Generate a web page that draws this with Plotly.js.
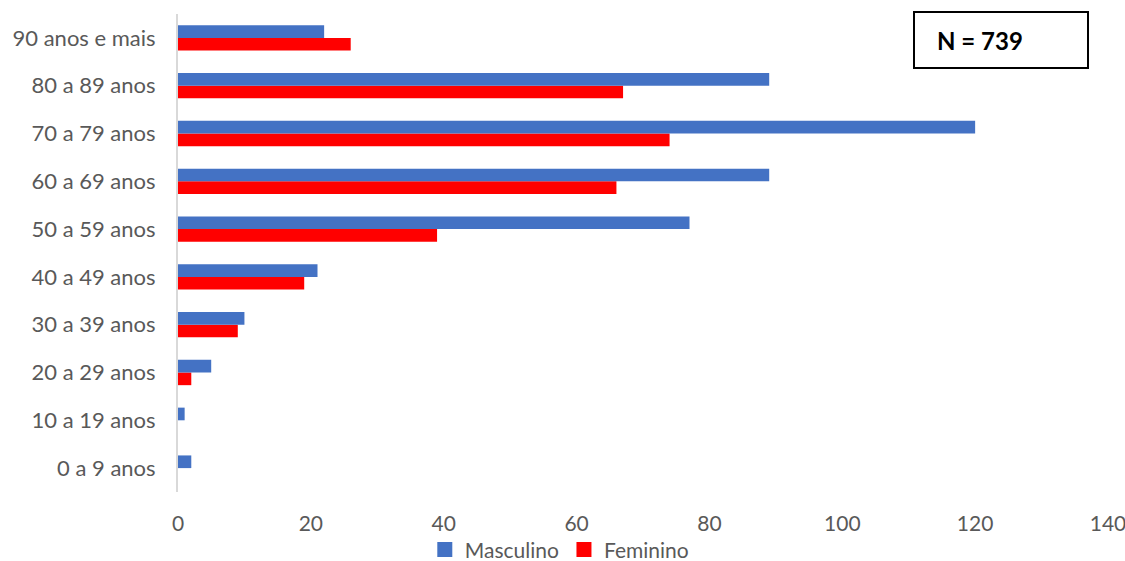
<!DOCTYPE html>
<html>
<head>
<meta charset="utf-8">
<script src="https://cdn.plot.ly/plotly-3.0.1.min.js"></script>
<style>html,body{margin:0;padding:0;background:#fff;}#chart{width:1125px;height:561px;}</style>
</head>
<body>
<div id="chart"></div>
<script>
// Faixas etárias (de baixo para cima)
const faixas = ['0 a 9 anos', '10 a 19 anos', '20 a 29 anos', '30 a 39 anos', '40 a 49 anos',
  '50 a 59 anos', '60 a 69 anos', '70 a 79 anos', '80 a 89 anos', '90 anos e mais'];
const masculino = [2, 1, 5, 10, 21, 77, 89, 120, 89, 22];
const feminino  = [0, 0, 2, 9, 19, 39, 66, 74, 67, 26];
const xTicks = [0, 20, 40, 60, 80, 100, 120, 140];
const totalLabel = 'N = 739';

const font = 'Lato, "Open Sans", sans-serif';
const grey = '#595959';
const blue = '#4472c4';
const red = '#ff0000';

// Feminino first so that Masculino sits above it within each group;
// legend keys are drawn by marker-only entries with larger square symbols
const traces = [
  { type: 'bar', orientation: 'h', name: 'Feminino', y: faixas, x: feminino,
    marker: { color: red }, showlegend: false, hoverinfo: 'x+name' },
  { type: 'bar', orientation: 'h', name: 'Masculino', y: faixas, x: masculino,
    marker: { color: blue }, showlegend: false, hoverinfo: 'x+name' },
  { type: 'scatter', mode: 'markers', name: 'Masculino', x: [null], y: [null],
    marker: { symbol: 'square', size: 15, color: blue }, showlegend: true },
  { type: 'scatter', mode: 'markers', name: 'Feminino', x: [null], y: [null],
    marker: { symbol: 'square', size: 15, color: red }, showlegend: true }
];

const layout = {
  width: 1125, height: 561,
  margin: { l: 178, r: 17, t: 14, b: 69, autoexpand: false },
  paper_bgcolor: '#ffffff', plot_bgcolor: '#ffffff',
  barmode: 'group', bargap: 0.47, bargroupgap: 0,
  font: { family: font, size: 21, color: grey },
  xaxis: {
    range: [0, 140], tickvals: xTicks, ticktext: xTicks.map(String),
    showgrid: false, zeroline: false, showline: false, ticks: '',
    ticklabeloverflow: 'allow', ticklabelstandoff: 17, automargin: false,
    tickfont: { family: font, size: 21, color: grey }, fixedrange: true
  },
  yaxis: {
    type: 'category', categoryorder: 'array', categoryarray: faixas,
    showgrid: false, zeroline: false, showline: true, linecolor: '#d9d9d9', linewidth: 2,
    ticks: '', ticklen: 0, ticklabelstandoff: 16,
    tickfont: { family: font, size: 22, color: grey },
    automargin: false, fixedrange: true
  },
  showlegend: true,
  legend: {
    orientation: 'h', traceorder: 'normal', bgcolor: 'rgba(0,0,0,0)',
    xref: 'paper', x: 0.41, xanchor: 'center',
    yref: 'container', y: 0.02, yanchor: 'middle',
    font: { family: font, size: 21, color: grey }, itemwidth: 30
  },
  shapes: [{
    type: 'rect', xref: 'paper', yref: 'paper',
    x0: 0.7914, x1: 0.9785, y0: 0.887, y1: 1.004,
    line: { color: '#000000', width: 2 }, fillcolor: '#ffffff'
  }],
  annotations: [{
    xref: 'paper', yref: 'paper', x: 0.814, y: 0.9456, xanchor: 'left', yanchor: 'middle',
    text: '<b>' + totalLabel + '</b>', showarrow: false,
    font: { family: font, size: 24, color: '#000000' }
  }]
};

Plotly.newPlot('chart', traces, layout, { displayModeBar: false, staticPlot: true });
</script>
</body>
</html>
